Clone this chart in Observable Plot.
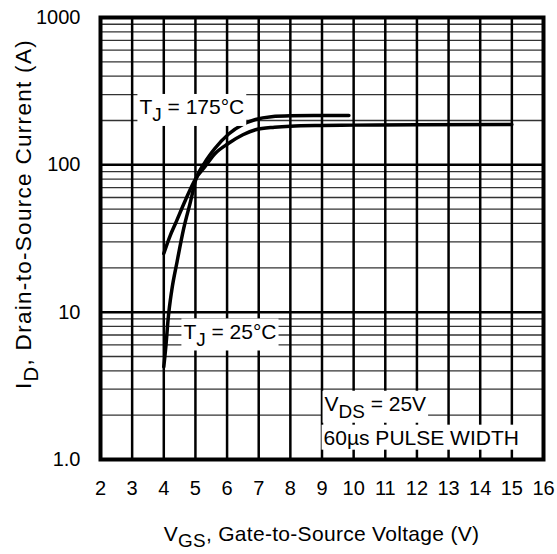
<!DOCTYPE html>
<html><head><meta charset="utf-8">
<script src="https://cdn.jsdelivr.net/npm/d3@7"></script>
<script src="https://cdn.jsdelivr.net/npm/@observablehq/plot@0.6"></script>
<style>body{margin:0;background:#fff;}</style>
</head><body><div id="chart"></div>
<script>
// Transfer characteristics
const vgs25  = [4.0, 4.07, 4.14, 4.25, 4.42, 4.63, 4.85, 5.0, 5.3, 5.6, 6.05, 6.5, 6.9, 7.4, 8.0, 9.0, 9.85];
const id25   = [4.25, 6.0, 9.1, 14, 22, 37, 57, 78, 104, 128, 162, 188, 203, 212, 215, 216, 216];
const vgs175 = [4.0, 4.2, 4.37, 4.69, 5.0, 5.3, 5.6, 6.05, 6.5, 6.9, 7.5, 8.0, 9.0, 10.0, 12.0, 15.0];
const id175  = [25, 33, 40, 58, 80, 97, 118, 140, 160, 173, 180, 183, 185, 186, 187, 188];

const xTicks = [2,3,4,5,6,7,8,9,10,11,12,13,14,15,16];
const yTicks = [1, 10, 100, 1000];
const yTickLabels = ["1.0", "10", "100", "1000"];
const yMinor = [2,3,4,5,6,7,8,9,20,30,40,50,60,70,80,90,200,300,400,500,600,700,800,900];
const yMajorGrid = [10, 100];

const annotations = [
  {x: 3.23, y: 246,  text: "T_J = 175°C"},
  {x: 4.62, y: 7.36, text: "T_J = 25°C"},
  {x: 9.08, y: 2.38, text: "V_DS = 25V"},
  {x: 9.05, y: 1.40, text: "60µs PULSE WIDTH"}
];
const xLabel = "V_GS, Gate-to-Source Voltage (V)";
const yLabel = "I_D, Drain-to-Source Current (A)";

const series = [
  ...vgs25.map((v, i) => ({vgs: v, id: id25[i], tj: "25°C"})),
  ...vgs175.map((v, i) => ({vgs: v, id: id175[i], tj: "175°C"}))
];

const FONT = "'Liberation Sans', Arial, Helvetica, sans-serif";
const W = 557, H = 554, ML = 100, MR = 14, MT = 17, MB = 95;

const plot = Plot.plot({
  width: W, height: H,
  marginLeft: ML, marginRight: MR, marginTop: MT, marginBottom: MB,
  style: {fontFamily: FONT, fontSize: "20px", background: "white", color: "black", overflow: "visible"},
  x: {domain: [2, 16], ticks: xTicks, tickSize: 0, tickPadding: 21, label: null},
  y: {type: "log", domain: [1, 1000], ticks: yTicks,
      tickFormat: d => yTickLabels[yTicks.indexOf(d)], tickSize: 0, tickPadding: 20, label: null},
  marks: [
    Plot.ruleY(yMinor, {stroke: "#333", strokeWidth: 1.3}),
    Plot.ruleY(yMajorGrid, {stroke: "black", strokeWidth: 2.5}),
    Plot.ruleX(xTicks.slice(1, -1), {stroke: "black", strokeWidth: 2.5}),
    Plot.line(series, {x: "vgs", y: "id", z: "tj", stroke: "black", strokeWidth: 3.5, curve: "monotone-x"}),
    Plot.text(annotations, {x: "x", y: "y", text: "text", textAnchor: "start", fill: "black",
      fontSize: 21, className: "annot"}),
    Plot.frame({stroke: "black", strokeWidth: 4})
  ]
});

document.getElementById("chart").appendChild(plot);

// subscript helper: "A_BC rest" -> A<sub>BC</sub> rest
function fillSub(el, s, shift) {
  const m = s.match(/^(\w)_(\w+)(.*)$/);
  el.textContent = "";
  if (!m) { el.textContent = s; return; }
  const ns = "http://www.w3.org/2000/svg";
  el.appendChild(document.createTextNode(m[1]));
  const sub = document.createElementNS(ns, "tspan");
  sub.setAttribute("dy", shift); sub.setAttribute("font-size", "0.9em"); sub.textContent = m[2];
  el.appendChild(sub);
  const rest = document.createElementNS(ns, "tspan");
  rest.setAttribute("dy", -shift); rest.textContent = m[3];
  el.appendChild(rest);
}

// annotations: subscripts + white boxes
const annotG = plot.querySelector("g.annot") || plot.querySelector("g[aria-label='text']");
if (annotG) {
  annotG.querySelectorAll("text").forEach((t, i) => {
    fillSub(t, annotations[i].text, 7);
    const b = t.getBBox();
    const r = document.createElementNS("http://www.w3.org/2000/svg", "rect");
    r.setAttribute("x", b.x - 2); r.setAttribute("y", b.y - 1);
    r.setAttribute("width", b.width + 4); r.setAttribute("height", b.height + 2);
    r.setAttribute("fill", "white");
    if (t.getAttribute("transform")) r.setAttribute("transform", t.getAttribute("transform"));
    t.parentNode.insertBefore(r, t);
  });
}

// axis titles
const ns = "http://www.w3.org/2000/svg";
const xt = document.createElementNS(ns, "text");
xt.setAttribute("transform", `translate(${(ML + W - MR) / 2},541)`);
xt.setAttribute("text-anchor", "middle");
xt.setAttribute("font-size", 21);
xt.setAttribute("letter-spacing", "0.3px");
xt.setAttribute("fill", "black");
fillSub(xt, xLabel, 6);
plot.appendChild(xt);

const yt = document.createElementNS(ns, "text");
yt.setAttribute("transform", `translate(31,214) rotate(-90)`);
yt.setAttribute("text-anchor", "middle");
yt.setAttribute("font-size", 22.5);
yt.setAttribute("letter-spacing", "1.3px");
yt.setAttribute("fill", "black");
fillSub(yt, yLabel, 7);
plot.appendChild(yt);
</script>
</body></html>
